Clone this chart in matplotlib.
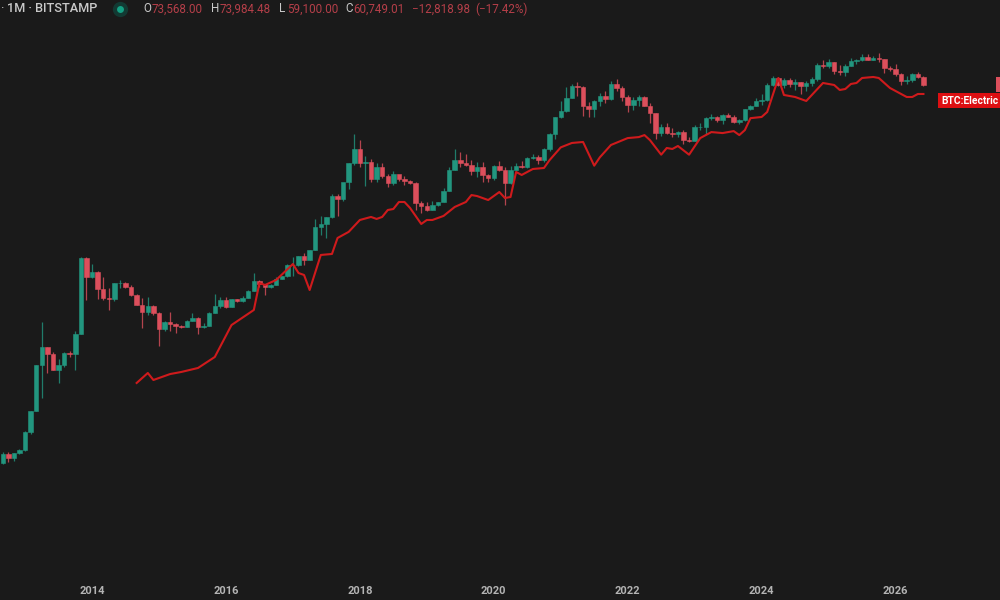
import numpy as np
import matplotlib
matplotlib.use('Agg')
import matplotlib.pyplot as plt
from matplotlib.patches import Rectangle

plt.rcParams['font.family'] = ['Roboto', 'DejaVu Sans']

# 月份索引，0 = 2014-01，第一根 K 線是 2012-09
months = np.arange(-16, 150)

opens = [10, 12.4, 11.2, 12.6,
         13.5, 20.4, 33.3, 95, 144, 125, 85, 96, 128, 123, 198, 1130,
         730, 820, 550, 445, 440, 630, 640, 585, 480, 385, 325, 375,
         320, 218, 258, 245, 235, 230, 265, 285, 230, 236, 320, 375,
         430, 368, 437, 416, 448, 530, 670, 624, 575, 609, 700, 745,
         965, 970, 1190, 1080, 1350, 2300, 2480, 2875, 4700, 4340, 6450, 9970,
         14000, 10100, 10300, 6900, 9240, 7500, 6400, 7730, 7030, 6630, 6300, 4020,
         3740, 3440, 3820, 4100, 5280, 8560, 10800, 10100, 9600, 8300, 9150, 7570,
         7190, 9350, 8530, 6410, 8620, 9450, 9140, 11350, 11650, 10780, 13800, 19700,
         29000, 33100, 45200, 58800, 57700, 37300, 35000, 41500, 47100, 43800, 61300, 57000,
         46200, 38500, 43200, 45500, 37700, 31800, 19900, 23300, 20000, 19400, 20500, 17200,
         16500, 23100, 23100, 28500, 29200, 27200, 30500, 29200, 25900, 27000, 34500, 37700,
         42300, 42500, 61100, 71300, 60600, 67500, 62700, 64600, 58900, 63300, 70200, 96400,
         93400, 102400, 84300, 82500, 94200, 104600, 107100, 115700, 108200, 114000, 109500, 90400,
         87500, 78500, 66900, 68000, 78000, 73568]
highs = [12.9, 13, 12.7, 13.8,
         21, 33.5, 95, 259, 146, 130, 110, 130, 132, 210, 1163, 1163,
         985, 830, 730, 560, 640, 680, 645, 600, 490, 450, 455, 380,
         325, 265, 325, 250, 240, 268, 315, 290, 250, 325, 495, 465,
         465, 440, 440, 470, 545, 790, 680, 625, 615, 735, 750, 975,
         1150, 1190, 1280, 1350, 2770, 3000, 2900, 4980, 4980, 6180, 10000, 19660,
         17000, 11800, 11000, 9950, 10000, 7780, 8450, 7400, 7400, 6800, 6500, 4150,
         4070, 4200, 4100, 5630, 9070, 13900, 13100, 12300, 10900, 10300, 10350, 7790,
         9570, 10500, 9200, 9470, 10080, 10420, 11460, 12470, 12070, 14100, 19850, 29300,
         41900, 58300, 61700, 64900, 59500, 41300, 42500, 50500, 52900, 67000, 69000, 59000,
         47900, 45800, 48200, 47400, 40000, 31900, 24700, 25200, 22700, 21100, 21400, 18300,
         23900, 25200, 29200, 31000, 29800, 31400, 31800, 30200, 27500, 35200, 38400, 44700,
         48900, 64000, 73800, 72800, 71900, 71900, 70000, 65000, 66500, 73600, 99800, 108300,
         109400, 102500, 95000, 97900, 112000, 110500, 123200, 124400, 117900, 126200, 111000, 94600,
         97900, 79300, 74000, 79000, 82000, 73984]
lows = [9.9, 10.3, 10.5, 12.4,
        13.2, 19.5, 33, 45, 80, 85, 63, 92, 115, 85, 195, 430,
        705, 440, 430, 340, 420, 560, 565, 470, 380, 225, 305, 305,
        150, 212, 212, 200, 225, 228, 262, 198, 225, 234, 315, 355,
        355, 363, 410, 410, 445, 525, 580, 480, 570, 605, 695, 735,
        750, 930, 950, 1070, 1345, 1900, 1800, 2850, 2950, 4200, 5500, 9600,
        9100, 5950, 6500, 6450, 7100, 5800, 6050, 6600, 6000, 6200, 3400, 3200,
        3350, 3380, 3730, 4080, 5250, 8500, 9100, 9300, 7700, 7300, 6500, 6450,
        6850, 8400, 3850, 6150, 8650, 8950, 9000, 11000, 9900, 10400, 13200, 17600,
        28100, 32300, 45000, 47000, 30000, 28800, 29300, 37300, 39600, 43200, 53300, 42000,
        32900, 34300, 37100, 37600, 25400, 17600, 18800, 19500, 18100, 18100, 15500, 16300,
        16500, 21400, 19600, 26900, 25900, 24800, 29000, 25300, 24900, 26500, 34100, 37600,
        38500, 41900, 59100, 59200, 56500, 58500, 53500, 49000, 52600, 58900, 66800, 90500,
        89200, 78200, 76600, 74500, 93400, 98200, 105100, 107300, 107300, 103500, 80600, 84400,
        74500, 60000, 62500, 65000, 72000, 59100]
closes = [12.4, 11.2, 12.6, 13.5,
          20.4, 33.3, 95, 144, 125, 85, 96, 128, 123, 198, 1130, 730,
          820, 550, 445, 440, 630, 640, 585, 480, 385, 325, 375, 320,
          218, 258, 245, 235, 230, 265, 285, 230, 236, 320, 375, 430,
          368, 437, 416, 448, 530, 670, 624, 575, 609, 700, 745, 965,
          970, 1190, 1080, 1350, 2300, 2480, 2875, 4700, 4340, 6450, 9970, 14000,
          10100, 10300, 6900, 9240, 7500, 6400, 7730, 7030, 6630, 6300, 4020, 3740,
          3440, 3820, 4100, 5280, 8560, 10800, 10100, 9600, 8300, 9150, 7570, 7190,
          9350, 8530, 6410, 8620, 9450, 9140, 11350, 11650, 10780, 13800, 19700, 29000,
          33100, 45200, 58800, 57700, 37300, 35000, 41500, 47100, 43800, 61300, 57000, 46200,
          38500, 43200, 45500, 37700, 31800, 19900, 23300, 20000, 19400, 20500, 17200, 16500,
          23100, 23100, 28500, 29200, 27200, 30500, 29200, 25900, 27000, 34500, 37700, 42300,
          42500, 61100, 71300, 60600, 67500, 62700, 64600, 58900, 63300, 70200, 96400, 93400,
          102400, 84300, 82500, 94200, 104600, 107100, 115700, 108200, 114000, 109500, 90400, 87500,
          78500, 66900, 68000, 78000, 73568, 60749]

# 紅線（電力成本）的轉折點
line_months = [8, 10, 11, 14, 16, 19, 22, 25, 29, 30, 31, 33, 36, 37, 38, 39, 41, 43,
               44, 46, 48, 50, 51, 52, 53, 54, 55, 56, 57, 59, 60, 61, 63, 65, 67, 68, 69,
               71, 73, 74, 75, 76, 77, 78, 79, 81, 82, 84, 86, 88, 90, 91, 93, 96, 98, 99,
               100, 102, 103, 104, 105, 107, 109, 111, 113, 115, 116, 117, 118, 120, 121,
               123, 124, 126, 128, 131, 133, 134, 135, 136, 137, 138, 140, 141, 143, 146,
               147, 148, 149]
line_values = [63.5, 79.9, 68, 78, 81.8, 89.7, 115.5, 241, 341, 635, 606, 680, 983, 799,
               763, 540, 1210, 1238, 1789, 2060, 2708, 2904, 2773, 2904, 3407, 3486, 4098,
               4098, 3570, 2470, 2708, 2708, 2973, 3654, 4098, 4808, 4699, 4287, 5157, 4490,
               4596, 8180, 7635, 8180, 8760, 8966, 10755, 14410, 15950, 16320, 9454, 11447,
               15230, 17850, 18270, 19130, 17010, 12180, 14210, 13890, 14880, 12180, 17850,
               20500, 20030, 20970, 19130, 21460, 28230, 29020, 32560, 71200, 48160, 45980,
               41950, 63490, 60620, 54030, 55290, 62040, 63490, 71200, 72890, 71200, 56580,
               45980, 45980, 49280, 49280]

year_ticks = [0, 24, 48, 72, 96, 120, 144]
year_labels = ['2014', '2016', '2018', '2020', '2022', '2024', '2026']

BG = '#1a1a1a'
GREEN = '#22967f'
RED = '#dc4f5c'
DIM_RED = '#b53f49'
LINE_RED = '#cf1a1c'


def fx(px):
    return px / 1000


def fy(px):
    return 1 - px / 600


def draw_candles(ax):
    o = np.array(opens, dtype=float)
    h = np.array(highs, dtype=float)
    l = np.array(lows, dtype=float)
    c = np.array(closes, dtype=float)
    up = c >= o
    for mask, color in ((up, GREEN), (~up, RED)):
        ax.vlines(months[mask], l[mask], h[mask], color=color, lw=0.9, alpha=0.8, zorder=2)
        ax.bar(months[mask], np.abs(c - o)[mask], bottom=np.minimum(o, c)[mask], width=0.8,
               color=color, linewidth=0.4, edgecolor=color, zorder=3)


def draw_header(fig, ax):
    fig.text(fx(0), fy(9), '·', color='#c9c9c9', fontsize=9.6, va='center')
    fig.text(fx(7), fy(9), '1M · BITSTAMP', color='#c9c9c9', fontsize=9.2, fontweight='medium', va='center')
    ax.plot([fx(120)], [fy(9)], 'o', ms=11, color='#123a33', mew=0, transform=fig.transFigure, clip_on=False)
    ax.plot([fx(120)], [fy(9)], 'o', ms=5, color='#14a083', mew=0, transform=fig.transFigure, clip_on=False)
    parts = [(143, 'O', '#c9c9c9'), (152, '73,568.00', DIM_RED), (211, 'H', '#c9c9c9'), (220, '73,984.48', DIM_RED),
             (279, 'L', '#c9c9c9'), (287, '59,100.00', DIM_RED), (345, 'C', '#c9c9c9'), (353, '60,749.01', DIM_RED),
             (412, '−12,818.98', DIM_RED), (475, '(−17.42%)', DIM_RED)]
    for x, s, color in parts:
        fig.text(fx(x), fy(9), s, color=color, fontsize=8.4, va='center')


def draw_tags(fig):
    fig.add_artist(Rectangle((fx(996), fy(92)), fx(4), 15 / 600, transform=fig.transFigure,
                             facecolor=RED, edgecolor='none'))
    fig.add_artist(Rectangle((fx(938), fy(108)), fx(62), 15 / 600, transform=fig.transFigure,
                             facecolor='#dd0f12', edgecolor='none'))
    fig.text(fx(941), fy(100.5), 'BTC:Electric', color='white', fontsize=7.4, fontweight='bold', va='center')


def main():
    fig = plt.figure(figsize=(10, 6), dpi=100, facecolor=BG)
    ax = fig.add_axes([0, 0, 1, 1], facecolor=BG)

    draw_candles(ax)
    ax.plot(line_months, line_values, color=LINE_RED, lw=1.5, zorder=4, solid_joinstyle='round')

    ax.set_yscale('log')
    ax.set_xlim(-16.49, 162.72)
    ax.set_ylim(0.429, 429000)
    ax.yaxis.set_major_locator(plt.NullLocator())
    ax.yaxis.set_minor_locator(plt.NullLocator())
    ax.set_xticks(year_ticks)
    ax.set_xticklabels(year_labels, color='#b4b4b4', fontsize=8, fontweight='bold')
    ax.tick_params(axis='x', length=0, pad=-10)
    for s in ax.spines.values():
        s.set_visible(False)

    draw_header(fig, ax)
    draw_tags(fig)

    fig.savefig('out.png', dpi=100, facecolor=BG)


if __name__ == "__main__":
    main()
